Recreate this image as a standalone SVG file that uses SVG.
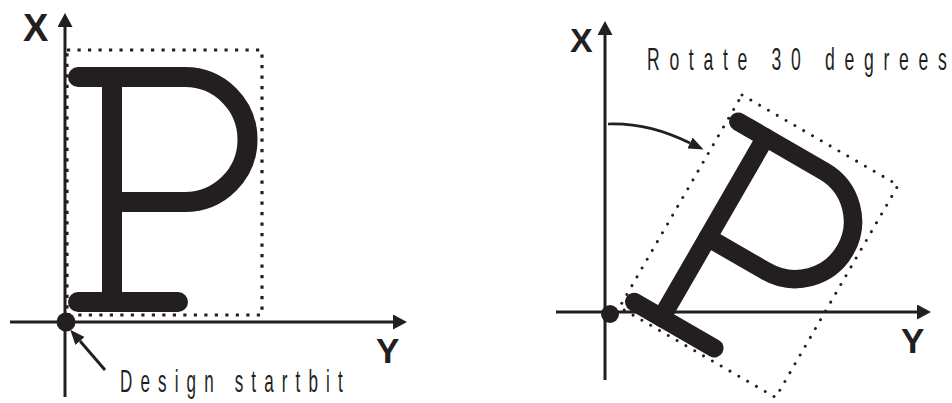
<svg xmlns="http://www.w3.org/2000/svg" width="952" height="403" viewBox="0 0 952 403">
  <style>
    .axis { stroke: #231f20; stroke-width: 3; fill: none; }
    .thin { stroke: #231f20; stroke-width: 2.6; fill: none; }
    .glyph { stroke: #231f20; stroke-width: 20; fill: none; stroke-linecap: round; stroke-linejoin: round; }
    .frameL { stroke: #231f20; stroke-width: 3.2; fill: none; stroke-dasharray: 3.2 7.3; }
    .frameR { stroke: #231f20; stroke-width: 3.2; fill: none; stroke-dasharray: 0 11; stroke-linecap: round; }
    .lab { font-family: "Liberation Sans", Arial, sans-serif; font-weight: bold; fill: #231f20; }
    .note { font-family: "Liberation Sans", Arial, sans-serif; fill: #231f20; }
  </style>
  <defs>
    <marker id="axhead" markerUnits="userSpaceOnUse" viewBox="0 0 14 15" refX="0" refY="7.5" markerWidth="14" markerHeight="15" orient="auto">
      <path d="M0,0 L14,7.5 L0,15 Z" fill="#231f20"/>
    </marker>
    <marker id="ptrhead" markerUnits="userSpaceOnUse" viewBox="0 0 15 12" refX="0" refY="6" markerWidth="15" markerHeight="12" orient="auto">
      <path d="M0,0 L15,6 L0,12 Z" fill="#231f20"/>
    </marker>
  </defs>

  <!-- Left: original design -->
  <g id="left-axes">
    <line class="axis" x1="65" y1="397" x2="65" y2="27" marker-end="url(#axhead)"/>
    <line class="axis" x1="10" y1="322" x2="393" y2="322" marker-end="url(#axhead)"/>
    <text class="lab" x="23" y="41" font-size="38">X</text>
    <text class="lab" x="376" y="363" font-size="35">Y</text>
  </g>
  <g id="left-frame">
    <rect class="frameL" x="67" y="50" width="195" height="265"/>
  </g>
  <g id="left-P">
    <path class="glyph" d="M78,77 H185 A62.5,62.5 0 0 1 185,202 H112"/>
    <path class="glyph" d="M112,77 V302"/>
    <path class="glyph" d="M78,302 H178"/>
  </g>
  <g id="left-start">
    <circle cx="66" cy="322" r="9.5" fill="#231f20"/>
  </g>
  <g id="left-note">
    <text class="note" font-size="31" transform="translate(120,392) scale(0.55,1)" textLength="405" lengthAdjust="spacing">Design startbit</text>
  </g>

  <!-- Right: rotated design -->
  <g id="right-axes">
    <line class="axis" x1="605" y1="380" x2="605" y2="35" marker-end="url(#axhead)"/>
    <line class="axis" x1="556" y1="312" x2="917" y2="312" marker-end="url(#axhead)"/>
    <text class="lab" x="570" y="52" font-size="34">X</text>
    <text class="lab" x="901" y="353" font-size="35">Y</text>
  </g>
  <g id="right-rotated" transform="translate(742,95) rotate(30) scale(0.925) translate(-67,-50)">
    <rect class="frameR" x="67" y="50" width="195" height="265"/>
    <path class="glyph" d="M78,77 H185 A62.5,62.5 0 0 1 185,202 H112"/>
    <path class="glyph" d="M112,77 V302"/>
    <path class="glyph" d="M78,302 H178"/>
  </g>
  <g id="right-start">
    <circle cx="610" cy="314" r="9" fill="#231f20"/>
  </g>
  <g id="right-note">
    <text class="note" font-size="32" transform="translate(647,70) scale(0.55,1)" textLength="545" lengthAdjust="spacing">Rotate 30 degrees</text>
  </g>

  <!-- Connectors -->
  <g id="connectors">
    <line class="axis" x1="105" y1="370" x2="80" y2="341" marker-end="url(#ptrhead)"/>
    <path class="thin" d="M608,124 C640,123 665,131 690,143" marker-end="url(#ptrhead)"/>
  </g>
</svg>
